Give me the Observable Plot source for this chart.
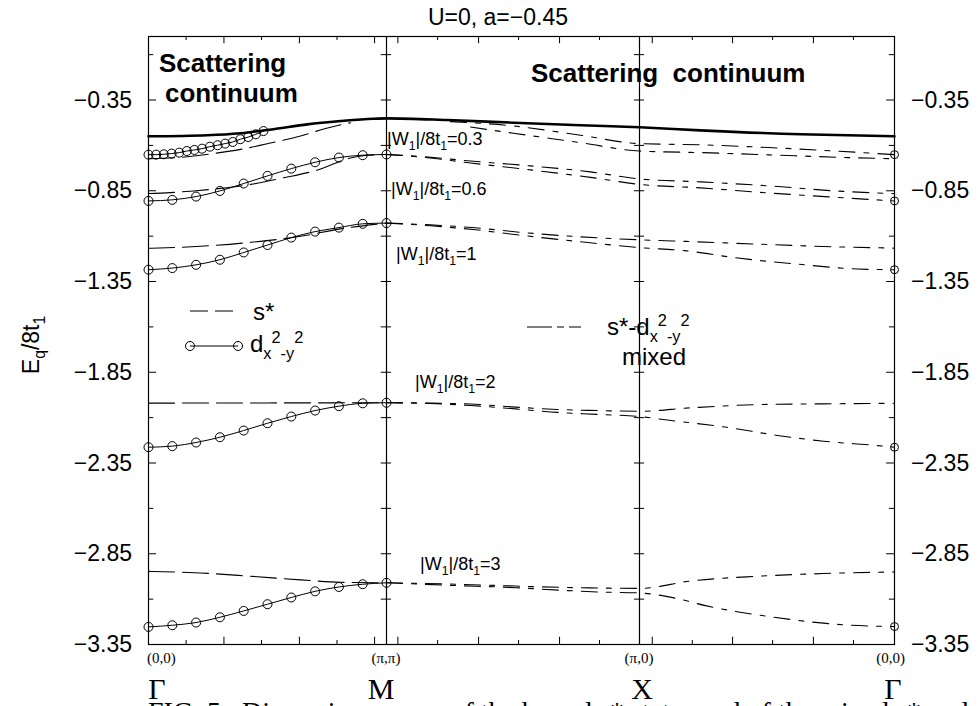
<!DOCTYPE html>
<html><head><meta charset="utf-8">
<script src="https://cdn.jsdelivr.net/npm/d3@7"></script>
<script src="https://cdn.jsdelivr.net/npm/@observablehq/plot@0.6"></script>
<style>html,body{margin:0;padding:0;background:#fff} svg{display:block}</style>
</head><body><div id="chart"></div>
<script>
// Path coordinate along the Brillouin-zone path: Γ=0, M=1, X=2, Γ=3
const kPoints = [0, 1, 2, 3];
const kTickLabels = ["(0,0)", "(π,π)", "(π,0)", "(0,0)"];
const kNames = ["Γ", "M", "X", "Γ"];
const yMajor = [-0.35, -0.85, -1.35, -1.85, -2.35, -2.85, -3.35];
const yMinor = [-0.1, -0.6, -1.1, -1.6, -2.1, -2.6, -3.1];
const xTickLong = [0.317, 0.634, 0.950, 1.045, 1.364, 1.684, 2.050, 2.365, 2.682];
const xTickShort = [0.158, 0.475, 0.792, 1.202, 1.522, 1.842, 2.207, 2.522, 2.839];

// Scattering continuum edge
const contT = [0, 0.247, 0.387, 0.525, 0.667, 0.807, 0.945, 1, 1.24, 1.502, 1.767, 2, 2.239, 2.631, 3];
const contE = [-0.550, -0.544, -0.533, -0.511, -0.484, -0.466, -0.453, -0.451, -0.460, -0.475, -0.489, -0.500, -0.517, -0.539, -0.550];

// d_{x2-y2} states along Γ→M
const tD03 = [0, 0.032, 0.064, 0.097, 0.129, 0.161, 0.193, 0.225, 0.258, 0.290, 0.322, 0.354, 0.386, 0.419, 0.451, 0.483];
const eD03 = [-0.651, -0.651, -0.649, -0.645, -0.640, -0.631, -0.625, -0.618, -0.607, -0.599, -0.590, -0.581, -0.566, -0.554, -0.539, -0.521];
const tD = [0, 0.1, 0.2, 0.3, 0.4, 0.5, 0.6, 0.7, 0.8, 0.9, 1];
const eD06 = [-0.906, -0.900, -0.882, -0.851, -0.810, -0.768, -0.728, -0.693, -0.667, -0.654, -0.650];
const eD1 = [-1.285, -1.276, -1.258, -1.230, -1.190, -1.149, -1.108, -1.075, -1.053, -1.032, -1.028];
const eD2 = [-2.263, -2.257, -2.237, -2.208, -2.171, -2.131, -2.094, -2.061, -2.037, -2.021, -2.018];
const eD3 = [-3.253, -3.244, -3.229, -3.200, -3.165, -3.128, -3.091, -3.057, -3.033, -3.018, -3.010];

// s* states along Γ→M
const tS03 = [0, 0.134, 0.26, 0.387, 0.513, 0.639, 0.744, 0.849];
const eS03 = [-0.674, -0.666, -0.647, -0.622, -0.587, -0.548, -0.507, -0.475];
const tS06 = [0, 0.092, 0.189, 0.303, 0.429, 0.555, 0.723, 0.828, 0.912, 1];
const eS06 = [-0.865, -0.860, -0.851, -0.837, -0.815, -0.782, -0.730, -0.677, -0.655, -0.650];
const tS1 = [0, 0.218, 0.429, 0.639, 0.807, 1];
const eS1 = [-1.167, -1.156, -1.134, -1.101, -1.060, -1.028];
const tS2 = [0, 0.5, 1];
const eS2 = [-2.020, -2.019, -2.018];
const tS3 = [0, 0.218, 0.429, 0.639, 0.807, 1];
const eS3 = [-2.947, -2.956, -2.974, -2.994, -3.007, -3.010];

// s*-d mixed states along M→X→Γ (two branches each)
const tM03a = [1.253, 1.502, 1.767, 2, 2.247, 2.506, 2.769, 3];
const eM03a = [-0.469, -0.493, -0.544, -0.590, -0.597, -0.612, -0.631, -0.651];
const tM03b = [1.332, 1.502, 1.767, 2, 2.247, 2.506, 2.769, 3];
const eM03b = [-0.499, -0.533, -0.585, -0.631, -0.640, -0.652, -0.665, -0.674];
const tM06 = [1, 1.134, 1.332, 1.569, 1.806, 2, 2.239, 2.506, 2.769, 3];
const eM06a = [-0.650, -0.661, -0.686, -0.713, -0.746, -0.785, -0.801, -0.823, -0.851, -0.866];
const eM06b = [-0.650, -0.664, -0.697, -0.735, -0.776, -0.815, -0.834, -0.862, -0.886, -0.906];
const tM1a = [1, 1.174, 1.352, 1.530, 1.767, 2, 2.2, 2.463, 2.722, 3];
const eM1a = [-1.028, -1.038, -1.054, -1.079, -1.104, -1.120, -1.130, -1.144, -1.157, -1.166];
const tM1b = [1, 1.174, 1.352, 1.530, 1.767, 2, 2.184, 2.369, 2.62, 2.855, 3];
const eM1b = [-1.028, -1.043, -1.065, -1.095, -1.131, -1.163, -1.181, -1.218, -1.254, -1.281, -1.285];
const tM2a = [1, 1.174, 1.332, 1.510, 1.676, 1.834, 2, 2.2, 2.463, 2.722, 3];
const eM2a = [-2.018, -2.020, -2.025, -2.042, -2.055, -2.061, -2.065, -2.046, -2.028, -2.024, -2.021];
const tM2b = [1, 1.174, 1.332, 1.510, 1.676, 1.834, 2, 2.102, 2.341, 2.541, 2.722, 2.933, 3];
const eM2b = [-2.018, -2.022, -2.033, -2.052, -2.071, -2.082, -2.094, -2.112, -2.153, -2.198, -2.230, -2.254, -2.263];
const tM3a = [1, 1.253, 1.510, 1.688, 1.846, 2, 2.2, 2.463, 2.722, 3];
const eM3a = [-3.010, -3.017, -3.028, -3.035, -3.039, -3.041, -3.000, -2.974, -2.959, -2.950];
const tM3b = [1, 1.253, 1.510, 1.688, 1.846, 2, 2.141, 2.259, 2.514, 2.816, 3];
const eM3b = [-3.010, -3.024, -3.037, -3.051, -3.061, -3.066, -3.095, -3.136, -3.197, -3.243, -3.251];

// d-wave end points at the second Γ
const eDRight = [-0.651, -0.906, -1.285, -2.263, -3.251];

// annotation labels
const wLabels = ["0.3", "0.6", "1", "2", "3"];

const S = (t, e) => t.map((v, i) => ({t: v, E: e[i]}));
const dashS = "26,8";
const dashMix = "16,9,5,9";

const lineOpts = {x: "t", y: "E", stroke: "black", curve: "monotone-x"};

const plot = Plot.plot({
  width: 980, height: 706,
  marginTop: 36, marginBottom: 62, marginLeft: 148, marginRight: 86,
  x: {type: "linear", domain: kPoints, range: [148, 386, 639, 894], axis: null},
  y: {domain: [-3.35, 0], axis: null},
  style: {background: "white", fontFamily: "'Liberation Sans', Arial, sans-serif"},
  marks: [
    Plot.ruleY(yMajor, {y: d => d, x1: 0, x2: 0.034, stroke: "black"}),
    Plot.ruleY(yMinor, {y: d => d, x1: 0, x2: 0.022, stroke: "black"}),
    Plot.ruleY(yMajor, {y: d => d, x1: 2.969, x2: 3, stroke: "black"}),
    Plot.ruleY(yMinor, {y: d => d, x1: 2.98, x2: 3, stroke: "black"}),
    Plot.ruleY(yMajor.concat(yMinor), {y: d => d, x1: 0.978, x2: 1.02, stroke: "black"}),
    Plot.ruleY(yMajor.concat(yMinor), {y: d => d, x1: 1.98, x2: 2.02, stroke: "black"}),
    Plot.ruleX(xTickLong, {x: d => d, y1: -3.35, y2: -3.31, stroke: "black"}),
    Plot.ruleX(xTickShort, {x: d => d, y1: -3.35, y2: -3.328, stroke: "black"}),
    Plot.ruleX(xTickLong, {x: d => d, y1: 0, y2: -0.04, stroke: "black"}),
    Plot.ruleX(xTickShort, {x: d => d, y1: 0, y2: -0.022, stroke: "black"}),
    Plot.ruleX([1, 2], {x: d => d, stroke: "black", strokeWidth: 1.2}),
    Plot.frame({stroke: "black", strokeWidth: 1.2}),
    Plot.line(S(contT, contE), {...lineOpts, strokeWidth: 2.6}),
    ...[[tS03, eS03], [tS06, eS06], [tS1, eS1], [tS2, eS2], [tS3, eS3]].map(([t, e]) =>
      Plot.line(S(t, e), {...lineOpts, strokeWidth: 1.1, strokeDasharray: dashS})),
    ...[[tD03, eD03], [tD, eD06], [tD, eD1], [tD, eD2], [tD, eD3]].flatMap(([t, e]) => [
      Plot.line(S(t, e), {...lineOpts, strokeWidth: 1}),
      Plot.dot(S(t, e), {x: "t", y: "E", r: 4.5, stroke: "black", fill: "none", strokeWidth: 1})]),
    ...[[tM03a, eM03a], [tM03b, eM03b], [tM06, eM06a], [tM06, eM06b], [tM1a, eM1a], [tM1b, eM1b],
        [tM2a, eM2a], [tM2b, eM2b], [tM3a, eM3a], [tM3b, eM3b]].map(([t, e]) =>
      Plot.line(S(t, e), {...lineOpts, strokeWidth: 1.1, strokeDasharray: dashMix})),
    Plot.dot(eDRight, {x: () => 3, y: d => d, r: 4, stroke: "black", fill: "none", strokeWidth: 1})
  ]
});

document.getElementById("chart").appendChild(plot);
const svg = d3.select(plot);
const sx = plot.scale("x"), sy = plot.scale("y");
const X = v => sx.apply(v), Y = v => sy.apply(v);

const SANS = "'Liberation Sans', Arial, Helvetica, sans-serif";
const SERIF = "'Liberation Serif', 'Times New Roman', serif";

// rich text with relative sub/superscript shifts (single text chunk)
function addText(x, y, parts, o = {}) {
  const size = o.size || 20;
  const t = svg.append("text")
    .attr("x", x).attr("y", y)
    .attr("font-family", o.family || SANS)
    .attr("font-size", size)
    .attr("font-weight", o.weight || "normal")
    .attr("text-anchor", o.anchor || "start")
    .attr("fill", "black")
    .style("white-space", "pre");
  if (o.transform) t.attr("transform", o.transform);
  if (typeof parts === "string") parts = [[parts, "n"]];
  let cur = 0;
  for (const [s, k] of parts) {
    const target = k === "sub" ? size * 0.28 : k === "sup" ? -size * 0.38 : 0;
    const ts = t.append("tspan").text(s).attr("dy", target - cur);
    if (k !== "n") ts.attr("font-size", size * 0.68);
    cur = target;
  }
  return t;
}

const fmt = d => "\u2212" + Math.abs(d).toFixed(2);
for (const v of yMajor) {
  addText(X(0) - 16, Y(v) + 8, fmt(v), {size: 23, anchor: "end"});
  addText(X(3) + 17, Y(v) + 8, fmt(v), {size: 23, anchor: "start"});
}
addText(X(0) - 1, 663, kTickLabels[0], {size: 15, family: SERIF, anchor: "start"});
addText(X(1), 663, kTickLabels[1], {size: 15, family: SERIF, anchor: "middle"});
addText(X(2), 663, kTickLabels[2], {size: 15, family: SERIF, anchor: "middle"});
addText(X(3) + 11, 663, kTickLabels[3], {size: 15, family: SERIF, anchor: "end"});
addText(X(0) + 9, 699, kNames[0], {size: 30, family: SERIF, anchor: "middle"});
addText(X(1) - 5, 699, kNames[1], {size: 30, family: SERIF, anchor: "middle"});
addText(X(2) + 3, 699, kNames[2], {size: 30, family: SERIF, anchor: "middle"});
addText(X(3) - 1, 699, kNames[3], {size: 30, family: SERIF, anchor: "middle"});
// caption fragment (cut by the page edge, as in the reference)
addText(148, 721, "FIG. 5.  Dispersion curves of the bound s* states and of the mixed s* and d-wave", {size: 28, family: SERIF});

addText(498, 25, "U=0, a=\u22120.45", {size: 23, anchor: "middle"});
addText(0, 0, [["E", "n"], ["q", "sub"], ["/8t", "n"], ["1", "sub"]],
  {size: 23, anchor: "middle", transform: "translate(39,345) rotate(-90)"});

addText(159, 72, "Scattering", {size: 26, weight: "bold"});
addText(165, 102, "continuum", {size: 26, weight: "bold"});
addText(531, 82, "Scattering\u00a0 continuum", {size: 26, weight: "bold"});

const wPos = [[387, 145], [391, 195], [396, 260], [415, 388], [420, 570]];
wLabels.forEach((w, i) => {
  addText(wPos[i][0], wPos[i][1], [["|W", "n"], ["1", "sub"], ["|/8t", "n"], ["1", "sub"], ["=" + w, "n"]], {size: 18});
});

svg.append("line").attr("x1", 190).attr("x2", 234).attr("y1", 311).attr("y2", 311)
  .attr("stroke", "black").attr("stroke-width", 1.1).attr("stroke-dasharray", "18,7");
addText(253, 320, "s*", {size: 24});
svg.append("line").attr("x1", 190).attr("x2", 238).attr("y1", 346).attr("y2", 346).attr("stroke", "black");
for (const cx of [190, 238]) svg.append("circle").attr("cx", cx).attr("cy", 346).attr("r", 4.5)
  .attr("fill", "none").attr("stroke", "black");
addText(250, 352, [["d", "n"], ["x", "sub"], ["2", "sup"], ["-y", "sub"], ["2", "sup"]], {size: 24});
svg.append("line").attr("x1", 527).attr("x2", 581).attr("y1", 327).attr("y2", 327)
  .attr("stroke", "black").attr("stroke-width", 1.1).attr("stroke-dasharray", "25,5,7,5");
addText(607, 335, [["s*-d", "n"], ["x", "sub"], ["2", "sup"], ["-y", "sub"], ["2", "sup"]], {size: 24});
addText(654, 365, "mixed", {size: 24, anchor: "middle"});
</script>
</body></html>
